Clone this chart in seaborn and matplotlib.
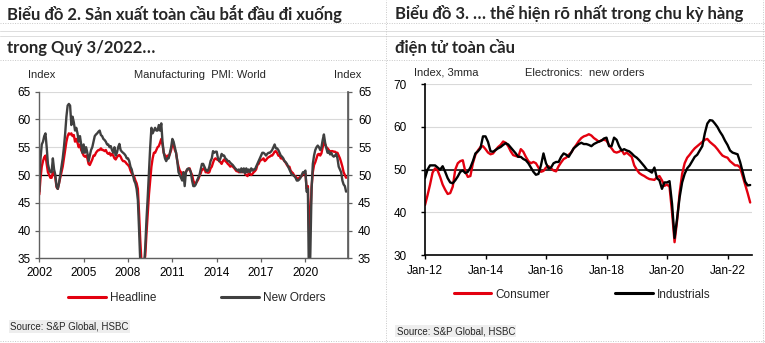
import numpy as np
import pandas as pd
import matplotlib
matplotlib.use("Agg")
import matplotlib.pyplot as plt
import seaborn as sns
from matplotlib.lines import Line2D

sns.set_theme(style="white")
plt.rcParams['font.family'] = ['Liberation Sans', 'DejaVu Sans']

W, H = 765, 343

# ---------------- data: Chart 2 (Manufacturing PMI: World), monthly Jan-2002 .. Oct-2022
pmi_start_year = 2002
pmi_headline = [
    46.5, 49.5, 51.5, 52.5, 53.2, 53.5, 52.0, 50.5, 50.0, 49.5, 49.5, 50.5,  # 2002
    50.5, 49.5, 47.8, 47.5, 48.5, 49.5, 50.5, 51.5, 53.0, 54.5, 56.0, 57.0,  # 2003
    57.5, 57.3, 57.5, 57.0, 57.2, 56.0, 56.5, 55.8, 55.0, 55.5, 54.5, 54.0,  # 2004
    53.5, 53.3, 53.5, 53.0, 52.0, 51.8, 52.3, 52.8, 53.5, 53.5, 54.0, 54.3,  # 2005
    54.5, 54.5, 54.8, 54.5, 54.5, 54.3, 54.5, 54.0, 53.8, 54.0, 53.5, 53.8,  # 2006
    53.5, 53.0, 52.8, 53.2, 53.5, 53.6, 53.3, 52.8, 52.5, 52.5, 52.3, 52.0,  # 2007
    51.8, 51.5, 50.8, 50.3, 50.0, 49.7, 49.0, 48.5, 47.5, 43.0, 38.0, 34.0,  # 2008
    33.5, 34.0, 35.5, 39.5, 43.0, 46.5, 49.0, 51.5, 53.0, 54.0, 54.0, 54.5,  # 2009
    55.0, 55.2, 55.8, 56.5, 55.5, 54.0, 53.5, 53.0, 53.5, 53.3, 53.8, 54.5,  # 2010
    55.5, 55.5, 54.5, 54.0, 52.5, 51.5, 50.8, 50.5, 50.0, 50.5, 50.0, 50.5,  # 2011
    51.0, 51.0, 51.2, 50.5, 50.0, 49.0, 48.5, 48.5, 48.8, 49.2, 49.8, 50.3,  # 2012
    51.0, 51.0, 51.3, 50.5, 50.5, 50.4, 50.5, 51.2, 51.5, 52.2, 52.8, 53.0,  # 2013
    52.8, 52.8, 52.5, 52.3, 52.0, 52.5, 52.8, 52.5, 52.3, 52.0, 51.8, 51.5,  # 2014
    51.7, 51.5, 51.3, 51.0, 50.7, 50.7, 50.5, 50.6, 50.5, 50.7, 50.8, 50.2,  # 2015
    50.0, 49.8, 50.3, 50.2, 50.0, 50.2, 50.5, 50.7, 51.0, 51.8, 52.0, 52.5,  # 2016
    52.7, 52.8, 53.0, 52.5, 52.7, 53.0, 53.2, 53.3, 53.5, 53.5, 53.8, 54.2,  # 2017
    54.3, 54.0, 53.5, 53.5, 53.0, 53.0, 52.8, 52.5, 52.2, 51.8, 51.5, 51.5,  # 2018
    50.8, 50.5, 50.3, 49.8, 49.8, 49.3, 49.3, 49.5, 49.7, 49.8, 50.2, 50.3,  # 2019
    50.3, 47.5, 48.0, 39.5, 42.5, 47.8, 50.5, 51.8, 52.3, 53.0, 53.7, 53.8,  # 2020
    53.5, 53.9, 55.0, 55.9, 55.5, 55.0, 54.8, 54.5, 54.2, 54.3, 54.3, 54.2,  # 2021
    54.2, 54.0, 54.0, 53.5, 53.0, 52.3, 51.5, 50.5, 50.0, 49.5,              # 2022
]
pmi_new_orders = [
    47.0, 53.0, 55.5, 56.0, 57.0, 57.5, 55.0, 52.0, 51.0, 50.5, 50.5, 53.0,  # 2002
    51.0, 50.0, 48.0, 47.5, 48.5, 50.0, 51.5, 53.0, 55.0, 57.5, 60.5, 62.5,  # 2003
    62.8, 62.5, 59.0, 60.5, 59.5, 58.0, 58.5, 57.5, 56.0, 57.0, 55.5, 54.0,  # 2004
    55.5, 54.0, 55.0, 54.0, 52.5, 53.5, 54.5, 55.0, 56.0, 57.0, 57.3, 57.5,  # 2005
    57.8, 58.0, 57.2, 57.0, 56.5, 56.3, 56.0, 55.5, 55.5, 55.0, 55.2, 54.5,  # 2006
    54.0, 55.0, 53.5, 54.0, 55.0, 55.6, 54.5, 54.2, 54.0, 53.8, 53.5, 53.0,  # 2007
    53.0, 52.5, 51.5, 51.0, 50.0, 49.0, 48.5, 47.5, 45.5, 40.0, 34.0, 32.0,  # 2008
    32.0, 33.5, 37.0, 42.0, 46.0, 50.5, 55.0, 58.5, 57.5, 58.0, 58.5, 58.0,  # 2009
    58.0, 59.0, 58.0, 59.3, 56.0, 54.0, 53.0, 52.5, 53.0, 53.0, 54.0, 55.0,  # 2010
    56.5, 56.0, 55.0, 54.0, 52.5, 50.5, 50.0, 49.5, 49.0, 50.5, 48.0, 50.5,  # 2011
    51.0, 51.2, 51.0, 50.5, 49.0, 48.0, 48.0, 48.3, 49.0, 49.5, 50.0, 51.0,  # 2012
    52.0, 52.0, 51.5, 51.0, 50.7, 50.8, 51.5, 52.5, 53.0, 54.3, 54.0, 54.2,  # 2013
    54.2, 53.0, 52.5, 53.0, 53.8, 53.5, 53.5, 53.0, 52.8, 52.5, 52.5, 52.2,  # 2014
    52.0, 51.8, 51.5, 51.2, 51.0, 50.8, 51.0, 50.5, 51.2, 50.5, 51.2, 50.3,  # 2015
    51.2, 50.5, 51.0, 50.5, 51.2, 50.8, 51.0, 51.0, 51.5, 52.0, 52.5, 53.0,  # 2016
    53.5, 54.0, 54.0, 53.8, 53.5, 53.8, 54.0, 54.0, 54.2, 54.5, 55.0, 55.5,  # 2017
    54.8, 54.8, 54.5, 54.0, 53.5, 53.3, 53.0, 52.5, 52.3, 52.0, 51.5, 51.0,  # 2018
    50.5, 50.0, 50.0, 49.8, 49.5, 49.0, 49.0, 49.2, 49.5, 50.0, 50.5, 50.5,  # 2019
    50.8, 47.0, 47.5, 28.0, 36.0, 47.5, 52.0, 53.5, 54.5, 55.0, 55.3, 55.0,  # 2020
    54.5, 55.0, 56.3, 57.3, 55.8, 54.8, 54.0, 54.3, 53.7, 54.0, 53.5, 53.3,  # 2021
    53.5, 53.8, 53.0, 51.5, 51.0, 50.5, 49.0, 48.3, 48.0, 47.0,              # 2022
]
pmi_xticks = [2002, 2005, 2008, 2011, 2014, 2017, 2020]
pmi_yticks = [35, 40, 45, 50, 55, 60, 65]

# ---------------- data: Chart 3 (Electronics: new orders, 3mma), monthly Jan-2012 .. Oct-2022
elec_consumer = [
    41.7, 44.0, 46.5, 49.3, 50.3, 49.8, 48.3, 46.5, 45.3, 44.3, 44.5, 46.0,  # 2012
    50.0, 51.5, 52.0, 52.2, 49.5, 48.3, 48.5, 51.5, 53.5, 54.5, 55.3, 55.5,  # 2013
    54.8, 54.0, 53.6, 53.8, 54.6, 55.3, 55.8, 56.6, 56.3, 55.5, 54.3, 53.4,  # 2014
    53.2, 53.0, 54.8, 54.2, 53.0, 52.0, 51.5, 51.8, 51.5, 50.5, 49.5, 49.7,  # 2015
    50.5, 50.8, 50.3, 49.8, 49.6, 50.8, 51.7, 52.5, 52.8, 53.5, 54.0, 55.0,  # 2016
    55.8, 56.7, 57.4, 57.8, 58.0, 58.3, 58.0, 57.4, 57.0, 56.5, 56.9, 57.0,  # 2017
    56.8, 55.8, 55.0, 54.2, 54.0, 54.2, 54.6, 53.6, 54.0, 53.5, 53.0, 51.0,  # 2018
    50.0, 49.2, 48.8, 48.5, 48.1, 47.8, 47.7, 47.6, 48.2, 48.5, 47.5, 46.2,  # 2019
    46.5, 46.0, 40.0, 33.0, 38.0, 44.5, 49.0, 51.5, 52.8, 53.5, 54.3, 55.0,  # 2020
    55.5, 56.0, 56.5, 57.0, 57.2, 56.5, 56.0, 55.5, 54.8, 54.0, 53.3, 53.0,  # 2021
    52.8, 52.0, 51.5, 51.0, 51.0, 50.5, 48.5, 46.5, 44.5, 42.3,              # 2022
]
elec_industrials = [
    48.0, 50.0, 51.0, 51.0, 51.0, 50.5, 50.0, 50.8, 49.5, 48.0, 47.0, 46.8,  # 2012
    47.5, 48.4, 49.5, 49.8, 49.2, 49.5, 50.5, 52.0, 53.8, 54.3, 55.0, 57.8,  # 2013
    57.8, 56.5, 54.3, 54.2, 54.6, 55.0, 55.3, 55.8, 56.2, 55.9, 55.2, 54.5,  # 2014
    53.8, 53.0, 53.0, 52.5, 52.2, 51.5, 50.5, 49.5, 48.8, 49.0, 51.0, 53.8,  # 2015
    51.5, 50.3, 50.5, 51.5, 51.8, 51.8, 53.0, 53.8, 53.5, 53.0, 54.0, 55.0,  # 2016
    55.5, 56.0, 56.3, 56.0, 56.0, 55.8, 55.5, 56.0, 56.3, 56.6, 56.8, 57.3,  # 2017
    57.5, 55.5, 55.5, 57.5, 57.0, 55.5, 54.5, 54.8, 54.5, 54.3, 53.8, 53.2,  # 2018
    52.8, 52.2, 51.5, 50.8, 50.0, 49.7, 49.3, 50.5, 48.0, 47.5, 45.5, 47.0,  # 2019
    47.0, 47.3, 42.0, 34.0, 38.5, 43.5, 47.0, 49.0, 50.3, 51.0, 52.0, 53.0,  # 2020
    53.5, 54.5, 55.5, 58.5, 60.8, 61.6, 61.5, 60.8, 60.0, 58.9, 58.0, 56.8,  # 2021
    55.8, 54.5, 54.0, 53.8, 53.6, 51.8, 49.5, 47.2, 46.3, 46.4,              # 2022
]
elec_xtick_labels = ['Jan-12', 'Jan-14', 'Jan-16', 'Jan-18', 'Jan-20', 'Jan-22']
elec_yticks = [30, 40, 50, 60, 70]

# ---------------- figure
fig = plt.figure(figsize=(W / 100, H / 100), dpi=100)
fig.patch.set_facecolor('white')


def fx(px):
    return px / W


def fy(py):
    return 1 - py / H


def add_axes_px(x0, y_top, x1, y_bot):
    return fig.add_axes([fx(x0), fy(y_bot), fx(x1) - fx(x0), fy(y_top) - fy(y_bot)])


RED = '#e3000f'
GREY = '#404040'
SPINE = '#606060'
GRID = '#d9d9d9'
TICK_FS = 8.5

# ---- left chart
n1 = len(pmi_headline)
t1 = pmi_start_year + np.arange(n1) / 12.0
df1 = pd.DataFrame({
    't': np.concatenate([t1, t1]),
    'value': pmi_headline + pmi_new_orders,
    'series': ['Headline'] * n1 + ['New Orders'] * n1,
})
axL = add_axes_px(39.3, 91.7, 348.3, 258.3)
sns.lineplot(data=df1, x='t', y='value', hue='series', hue_order=['Headline', 'New Orders'],
             palette={'Headline': RED, 'New Orders': GREY}, linewidth=1.7, legend=False, ax=axL)
axL.set_xlim(2002, 2022.9)
axL.set_ylim(35, 65)
axL.set_yticks(pmi_yticks)
axL.set_xticks(pmi_xticks)
axL.set_xticklabels([str(v) for v in pmi_xticks])
axL.set_xlabel('')
axL.set_ylabel('')
axL.set_axisbelow(True)
axL.yaxis.grid(True, color=GRID, linewidth=0.8)
axL.axhline(50, color='black', linewidth=0.9, zorder=1.5)
for s in ['left', 'right', 'bottom']:
    axL.spines[s].set_visible(True)
    axL.spines[s].set_color(SPINE)
    axL.spines[s].set_linewidth(1.0)
axL.spines['top'].set_visible(False)
axL.tick_params(axis='both', which='both', direction='out', length=3, width=0.9, color=SPINE,
                labelsize=TICK_FS, labelcolor='black', pad=3, left=True, bottom=True)
axR = axL.twinx()
axR.set_ylim(35, 65)
axR.set_yticks(pmi_yticks)
axR.tick_params(axis='y', direction='out', length=3, width=0.9, color=SPINE,
                labelsize=TICK_FS, labelcolor='black', pad=4, right=True)
for s in ['left', 'top', 'bottom']:
    axR.spines[s].set_visible(False)
axR.spines['right'].set_color(SPINE)
axR.grid(False)

fig.text(fx(28), fy(75), 'Index', fontsize=8, va='center', ha='left')
fig.text(fx(200), fy(75), 'Manufacturing  PMI: World', fontsize=8, va='center', ha='center')
fig.text(fx(361), fy(75), 'Index', fontsize=8, va='center', ha='right')

legL = axL.legend(handles=[Line2D([], [], color=RED, lw=2.2), Line2D([], [], color=GREY, lw=2.2)],
                  labels=['Headline', 'New Orders'], ncol=2, frameon=False, fontsize=8.5,
                  loc='center', bbox_to_anchor=(fx(197), fy(298)), bbox_transform=fig.transFigure,
                  handlelength=3.2, handletextpad=0.35, columnspacing=5.5, borderpad=0)

# ---- right chart
n2 = len(elec_consumer)
t2 = np.arange(n2)
df2 = pd.DataFrame({
    'm': np.concatenate([t2, t2]),
    'value': elec_consumer + elec_industrials,
    'series': ['Consumer'] * n2 + ['Industrials'] * n2,
})
ax2 = add_axes_px(425, 84.3, 751.7, 255)
sns.lineplot(data=df2, x='m', y='value', hue='series', hue_order=['Consumer', 'Industrials'],
             palette={'Consumer': RED, 'Industrials': 'black'}, linewidth=1.7, legend=False, ax=ax2)
ax2.set_xlim(0, 129.6)
ax2.set_ylim(30, 70)
ax2.set_yticks(elec_yticks)
ax2.set_xticks(np.arange(len(elec_xtick_labels)) * 24)
ax2.set_xticklabels(elec_xtick_labels)
ax2.set_xlabel('')
ax2.set_ylabel('')
ax2.set_axisbelow(True)
ax2.yaxis.grid(True, color=GRID, linewidth=0.8)
ax2.axhline(50, color='black', linewidth=1.1, zorder=1.5)
for s in ['left', 'bottom']:
    ax2.spines[s].set_visible(True)
    ax2.spines[s].set_color('black')
    ax2.spines[s].set_linewidth(1.2)
for s in ['right', 'top']:
    ax2.spines[s].set_visible(False)
ax2.tick_params(axis='both', direction='out', length=3, width=1.0, color='black',
                labelsize=TICK_FS, labelcolor='black', left=True, bottom=True)
ax2.tick_params(axis='y', pad=10)
ax2.tick_params(axis='x', pad=4)

fig.text(fx(414), fy(72.7), 'Index, 3mma', fontsize=8, va='center', ha='left')
fig.text(fx(525), fy(72.7), 'Electronics:  new orders', fontsize=8, va='center', ha='left')

leg2 = ax2.legend(handles=[Line2D([], [], color=RED, lw=2.2), Line2D([], [], color='black', lw=2.2)],
                  labels=['Consumer', 'Industrials'], ncol=2, frameon=False, fontsize=8.5,
                  loc='center', bbox_to_anchor=(fx(582), fy(294.5)), bbox_transform=fig.transFigure,
                  handlelength=3.2, handletextpad=0.35, columnspacing=5.5, borderpad=0)

# ---- titles (bold, Word-like)
TFS = 12
tfont = ['Lato', 'DejaVu Sans']
fig.text(fx(7), fy(14), 'Biểu đồ 2. Sản xuất toàn cầu bắt đầu đi xuống', fontsize=TFS,
         fontweight='bold', family=tfont, va='center', ha='left')
fig.text(fx(7), fy(48), 'trong Quý 3/2022…', fontsize=TFS, fontweight='bold', family=tfont,
         va='center', ha='left')
fig.text(fx(395), fy(14), 'Biểu đồ 3. … thể hiện rõ nhất trong chu kỳ hàng', fontsize=TFS,
         fontweight='bold', family=tfont, va='center', ha='left')
fig.text(fx(395), fy(48), 'điện tử toàn cầu', fontsize=TFS, fontweight='bold', family=tfont,
         va='center', ha='left')

# ---- source notes
src_box = dict(facecolor='#eeeeee', edgecolor='none', pad=1.0)
fig.text(fx(10.5), fy(326.5), 'Source: S&P Global, HSBC', fontsize=7, va='center', ha='left', bbox=src_box)
fig.text(fx(396.5), fy(331), 'Source: S&P Global, HSBC', fontsize=7, va='center', ha='left', bbox=src_box)

# ---- table borders (Word layout)
bc = '#c8c8c8'
for yy in [23, 60, 341]:
    fig.add_artist(Line2D([0, 1], [fy(yy), fy(yy)], color=bc, lw=0.7, linestyle=(0, (1, 1.5))))
for yy in [31, 36]:
    fig.add_artist(Line2D([0, 1], [fy(yy), fy(yy)], color='#dddddd', lw=0.7))
for xx in [386, 763]:
    fig.add_artist(Line2D([fx(xx), fx(xx)], [0, 1], color=bc, lw=0.7, linestyle=(0, (1, 1.5))))

fig.savefig('out.png', dpi=100, facecolor='white')
